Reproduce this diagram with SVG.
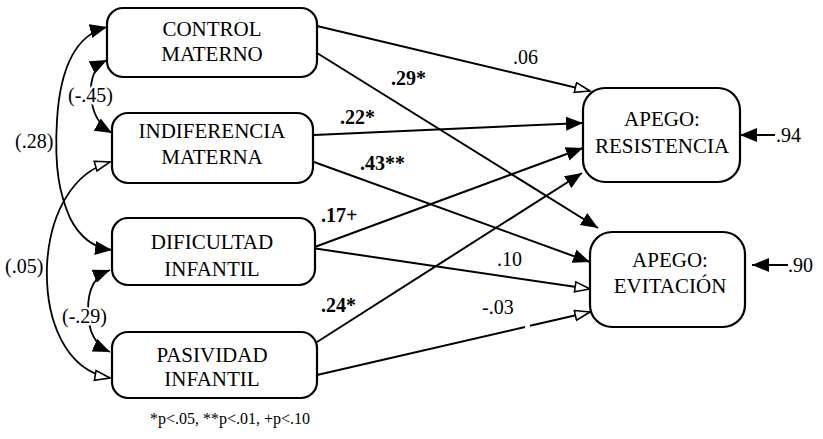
<svg xmlns="http://www.w3.org/2000/svg" width="823" height="439" viewBox="0 0 823 439" font-family="'Liberation Serif', 'Times New Roman', Times, Tinos, 'Nimbus Roman', 'FreeSerif', 'DejaVu Serif', 'Noto Serif', serif">
<style>
text{font-family:"Liberation Serif","Times New Roman",Times,Tinos,"Nimbus Roman",FreeSerif,"DejaVu Serif","Noto Serif",serif;fill:#000}
.box{fill:#fff;stroke:#000;stroke-width:2.2}
.nt{font-size:21px;text-anchor:middle}
.lb{font-size:20px}
.bd{font-weight:bold}
.halo{paint-order:stroke;stroke:#fff;stroke-width:5px;stroke-linejoin:round}
.fn{font-size:16px}
.ln{fill:none;stroke:#000;stroke-width:2}
.cv{fill:none;stroke:#000;stroke-width:1.8}
.f{marker-end:url(#af)}
.o{marker-end:url(#ao)}
.ff{marker-start:url(#af);marker-end:url(#af)}
.oo{marker-start:url(#ao);marker-end:url(#ao)}
</style>
<defs>
<marker id="af" markerUnits="userSpaceOnUse" markerWidth="19" markerHeight="15" refX="17" refY="7" orient="auto-start-reverse" viewBox="0 0 19 15">
<path d="M0,0 L17,7 L0,14 Z" fill="#000"/>
</marker>
<marker id="ao" markerUnits="userSpaceOnUse" markerWidth="18" markerHeight="14" refX="16" refY="6" orient="auto-start-reverse" viewBox="0 0 18 14">
<path d="M1,1 L16,6 L1,11 Z" fill="#fff" stroke="#000" stroke-width="1.6" stroke-linejoin="miter"/>
</marker>
</defs>
<rect width="823" height="439" fill="#fff"/>

<g id="connectors">
<line class="ln o" x1="317" y1="26" x2="590" y2="91"/>
<line class="ln f" x1="317" y1="53" x2="598" y2="228"/>
<line class="ln f" x1="314" y1="135" x2="583" y2="123"/>
<line class="ln f" x1="314" y1="162" x2="590" y2="262"/>
<line class="ln f" x1="312" y1="248" x2="583" y2="148"/>
<line class="ln o" x1="312" y1="248" x2="590" y2="289"/>
<line class="ln f" x1="317" y1="342" x2="582" y2="173"/>
<line class="ln" x1="317" y1="375" x2="525" y2="327"/>
<line class="ln o" x1="530" y1="325.8" x2="590" y2="312"/>
<line class="ln f" x1="775" y1="135" x2="740" y2="135"/>
<line class="ln f" x1="788" y1="265" x2="752" y2="265"/>
<path class="cv ff" d="M107,27 C75,35 60,70 57,120 C54,170 60,195 70,218 C80,238 95,248 112,250"/>
<path class="cv ff" d="M107,60 C95,66 90,78 91,95 C92,112 98,125 112,133"/>
<path class="cv oo" d="M110,162 C75,172 50,210 47,265 C45,320 65,370 110,378"/>
<path class="cv ff" d="M110,270 C95,276 88,288 88,310 C88,330 94,345 110,352"/>
</g>

<g id="labels">
<text class="lb" x="513" y="64">.06</text>
<text class="lb bd" x="391" y="85">.29*</text>
<text class="lb bd" x="340" y="124">.22*</text>
<text class="lb bd" x="360" y="170">.43**</text>
<text class="lb bd" x="321" y="222">.17+</text>
<text class="lb" x="497" y="266">.10</text>
<text class="lb bd" x="321" y="312">.24*</text>
<text class="lb" x="482" y="314">-.03</text>
<text class="lb" x="776" y="142">.94</text>
<text class="lb" x="788" y="272">.90</text>
<text class="lb halo" x="15" y="148">(.28)</text>
<text class="lb halo" x="68" y="102">(-.45)</text>
<text class="lb halo" x="5" y="273">(.05)</text>
<text class="lb halo" x="62" y="323">(-.29)</text>
<text class="fn" x="150" y="424">*p&lt;.05, **p&lt;.01, +p&lt;.10</text>
</g>

<g id="control-materno">
<rect class="box" x="107" y="8" width="210" height="69" rx="16"/>
<text class="nt" x="212" y="36">CONTROL</text>
<text class="nt" x="212" y="61">MATERNO</text>
</g>
<g id="indiferencia-materna">
<rect class="box" x="112" y="113" width="201" height="70" rx="16"/>
<text class="nt" x="212" y="138">INDIFERENCIA</text>
<text class="nt" x="212" y="164">MATERNA</text>
</g>
<g id="dificultad-infantil">
<rect class="box" x="112" y="218" width="203" height="67" rx="16"/>
<text class="nt" x="212" y="249">DIFICULTAD</text>
<text class="nt" x="212" y="276">INFANTIL</text>
</g>
<g id="pasividad-infantil">
<rect class="box" x="112" y="332" width="205" height="66" rx="16"/>
<text class="nt" x="212" y="362">PASIVIDAD</text>
<text class="nt" x="212" y="386">INFANTIL</text>
</g>
<g id="apego-resistencia">
<rect class="box" x="583" y="88" width="157" height="94" rx="22"/>
<text class="nt" x="662" y="126">APEGO:</text>
<text class="nt" x="662" y="153">RESISTENCIA</text>
</g>
<g id="apego-evitacion">
<rect class="box" x="590" y="232" width="155" height="95" rx="22"/>
<text class="nt" x="670" y="267">APEGO:</text>
<text class="nt" x="670" y="293">EVITACIÓN</text>
</g>
</svg>
